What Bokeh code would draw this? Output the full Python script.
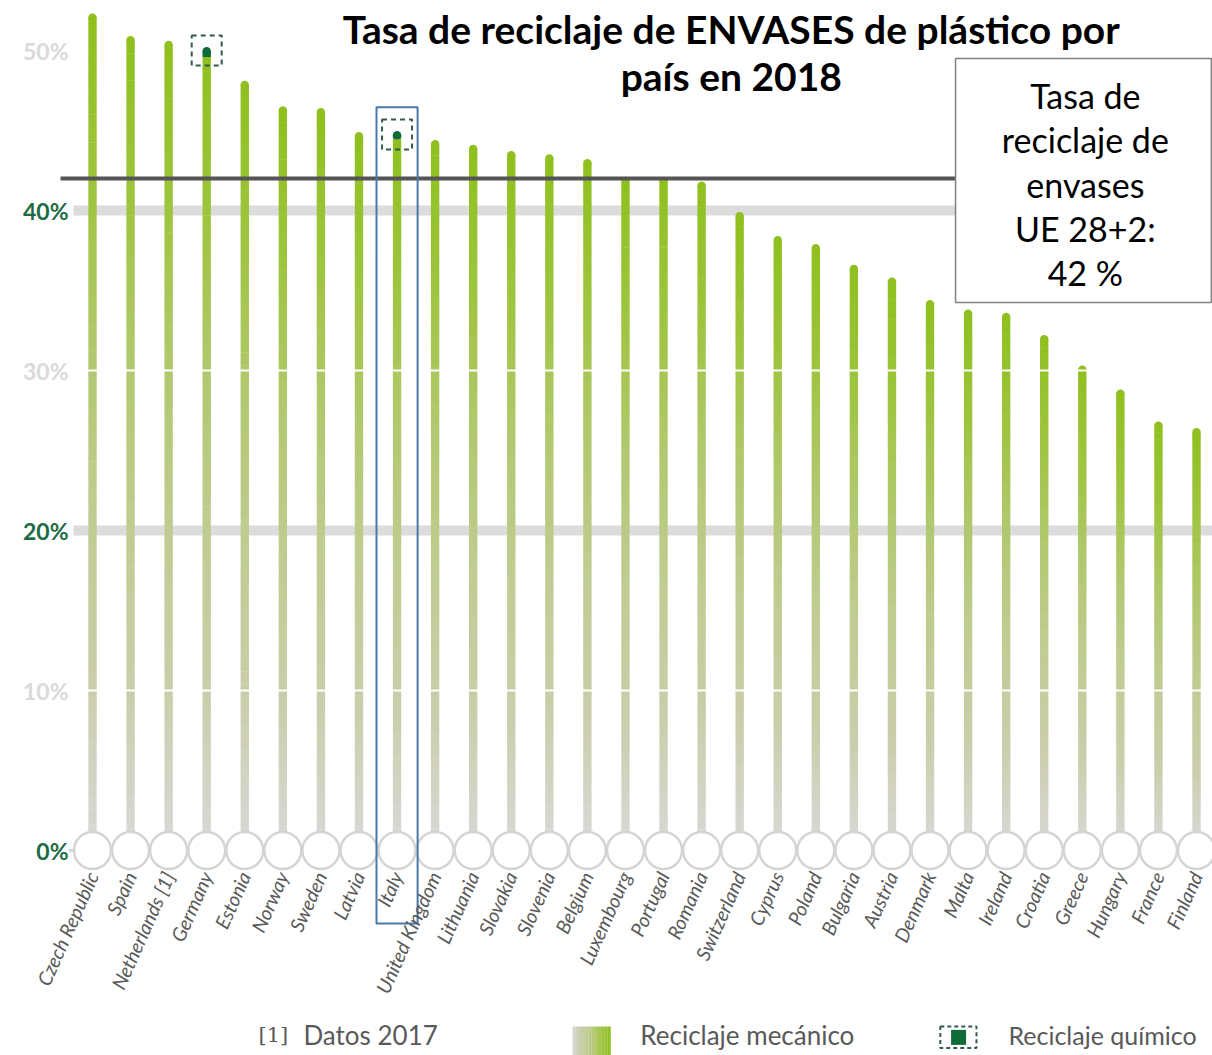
from bokeh.plotting import figure
from bokeh.models import Range1d, ColumnDataSource
from bokeh.core.properties import value
from bokeh.embed import file_html
from bokeh.resources import INLINE

# ---------------- data ----------------
countries = ["Czech Republic", "Spain", "Netherlands [1]", "Germany", "Estonia", "Norway",
             "Sweden", "Latvia", "Italy", "United Kingdom", "Lithuania", "Slovakia",
             "Slovenia", "Belgium", "Luxembourg", "Portugal", "Romania", "Switzerland",
             "Cyprus", "Poland", "Bulgaria", "Austria", "Denmark", "Malta", "Ireland",
             "Croatia", "Greece", "Hungary", "France", "Finland"]
mechanical = [52.3, 50.9, 50.6, 49.6, 48.1, 46.5, 46.4, 44.9, 44.5, 44.4, 44.1, 43.7,
              43.5, 43.2, 42.1, 42.1, 41.8, 39.9, 38.4, 37.9, 36.6, 35.8, 34.4, 33.8,
              33.6, 32.2, 30.3, 28.8, 26.8, 26.4]
chemical = [0, 0, 0, 0.6, 0, 0, 0, 0, 0.45, 0, 0, 0, 0, 0, 0, 0, 0, 0, 0, 0, 0, 0, 0, 0,
            0, 0, 0, 0, 0, 0]
eu_average = 42
y_ticks = [0, 10, 20, 30, 40, 50]
y_tick_labels = ["0%", "10%", "20%", "30%", "40%", "50%"]
highlight = "Italy"
title_lines = ["Tasa de reciclaje de ENVASES de plástico por", "país en 2018"]
box_lines = ["Tasa de", "reciclaje de", "envases", "UE 28+2:", "42 %"]

# ---------------- styling ----------------
FONT = "Lato"
GREEN_DARK = "#1d6b45"
CHEM = "#0f6b38"
LABEL_GREY = "#595959"
stops_t = [0.0, 0.2, 0.4, 0.6, 0.8, 1.0]
stops_c = [(217, 217, 217), (202, 205, 170), (192, 204, 146), (177, 200, 110),
           (158, 196, 62), (143, 192, 31)]


def grad(t):
    t = max(0.0, min(1.0, t))
    for k in range(len(stops_t) - 1):
        if t <= stops_t[k + 1]:
            f = (t - stops_t[k]) / (stops_t[k + 1] - stops_t[k])
            c = [round(a + (b - a) * f) for a, b in zip(stops_c[k], stops_c[k + 1])]
            return "#%02x%02x%02x" % tuple(c)
    return "#%02x%02x%02x" % stops_c[-1]


W, H = 1212, 1055
p = figure(width=W, height=H, output_backend="svg", toolbar_location=None,
           x_axis_location=None, y_axis_location=None, min_border=0,
           x_range=Range1d(-2.4166, 29.42), y_range=Range1d(-12.8125, 53.125),
           outline_line_color=None, background_fill_color="white")
p.grid.visible = False

n = len(countries)
idx = list(range(n))
x_left, x_right = -0.84, 29.6

# grey bands at 20 / 40 and baseline
for yv in (20, 40):
    p.segment(x0=[-0.5], y0=[yv], x1=[x_right], y1=[yv], line_color="#dcdcdc", line_width=10)
p.segment(x0=[-0.62], y0=[0], x1=[x_right], y1=[0], line_color="#d6d6d6", line_width=3)

# gradient bars
K = 60
bx, bb, bt, bc = [], [], [], []
cap_x, cap_y, cap_c = [], [], []
r = 0.25  # half bar width in y units (4px)
for i, v in enumerate(mechanical):
    top = v - r if chemical[i] == 0 else v
    for k in range(K):
        y0 = top * k / K
        y1 = top * (k + 1) / K + 0.03
        bx.append(i); bb.append(y0); bt.append(min(y1, top)); bc.append(grad((k + 0.5) / K))
    if chemical[i] == 0:
        cap_x.append(i); cap_y.append(top); cap_c.append(grad(1.0))
src = ColumnDataSource(dict(x=bx, bottom=bb, top=bt, color=bc))
p.vbar(x="x", bottom="bottom", top="top", width=0.22, fill_color="color", line_color=None, source=src)
p.scatter(x=cap_x, y=cap_y, size=8.4, fill_color=cap_c, line_color=None)

# chemical recycling tips
chem_x = [i for i in idx if chemical[i] > 0]
chem_b = [mechanical[i] for i in chem_x]
chem_t = [mechanical[i] + chemical[i] - r for i in chem_x]
p.vbar(x=chem_x, bottom=chem_b, top=chem_t, width=0.22, fill_color=CHEM, line_color=None)
p.scatter(x=chem_x, y=chem_t, size=8.4, fill_color=CHEM, line_color=None)
p.scatter(x=chem_x, y=[mechanical[i] + chemical[i] - 0.2 for i in chem_x], marker="square",
          size=30, fill_alpha=0, line_color="#2f5a4c", line_width=2, line_dash="5 4")

# white separators at 10 / 30
for yv in (10, 30):
    p.segment(x0=[-0.5], y0=[yv], x1=[x_right], y1=[yv], line_color="white", line_width=2)

# zero circles
p.scatter(x=idx, y=[0] * n, size=37, fill_color="white", line_color="#d4d4d4", line_width=2.5)

# EU average line
p.segment(x0=[x_left], y0=[eu_average], x1=[x_right], y1=[eu_average], line_color="#555555", line_width=4)

# highlight box around Italy
hi = countries.index(highlight)
p.quad(left=[hi - 0.54], right=[hi + 0.54], top=[mechanical[hi] + chemical[hi] + 1.5], bottom=[-4.56],
       fill_alpha=0, line_color="#4a78ad", line_width=2)

# y tick labels
tick_colors = ["#d9d9d9" if t % 20 else GREEN_DARK for t in y_ticks]
p.text(x=[-0.63] * len(y_ticks), y=y_ticks, text=y_tick_labels, text_align="right",
       text_baseline="middle", text_font=value(FONT), text_font_style="bold",
       text_font_size="23px", text_color=tick_colors)

# country labels
p.text(x=idx, y=[-1.4] * n, text=countries, angle=1.15, text_align="right",
       text_baseline="middle", text_font=value(FONT), text_font_style="italic",
       text_font_size="19.5px", text_color=LABEL_GREY)

# title
p.text(x=[16.78, 16.78], y=[51.35, 48.4], text=title_lines, text_align="center",
       text_baseline="middle", text_font=value(FONT), text_font_style="bold",
       text_font_size="39px", text_color="black")

# info box
p.quad(left=[22.67], right=[29.39], top=[49.5], bottom=[34.25], fill_color="white",
       line_color="#808080", line_width=1.5)
p.text(x=[26.08] * len(box_lines), y=[47.19 - 2.77 * k for k in range(len(box_lines))],
       text=box_lines, text_align="center", text_baseline="middle", text_font=value(FONT),
       text_font_size="34px", text_color="black")

# footer / legend
fy = -11.55
p.text(x=[4.36], y=[fy], text=["[1]"], text_baseline="middle", text_font=value("DejaVu Serif"),
       text_font_size="21px", text_color=LABEL_GREY)
p.text(x=[5.54], y=[fy], text=["Datos 2017"], text_baseline="middle", text_font=value(FONT),
       text_font_size="26px", text_color=LABEL_GREY)
G = 12
sw_l, sw_r = 12.61, 13.61
p.quad(left=[sw_l + (sw_r - sw_l) * g / G for g in range(G)],
       right=[sw_l + (sw_r - sw_l) * (g + 1.05) / G for g in range(G)],
       top=[-11.0] * G, bottom=[-12.9] * G,
       fill_color=[grad((g + 0.5) / G) for g in range(G)], line_color=None)
p.text(x=[14.39], y=[fy], text=["Reciclaje mecánico"], text_baseline="middle", text_font=value(FONT),
       text_font_size="26px", text_color=LABEL_GREY)
p.quad(left=[22.27], right=[23.22], top=[-11.0], bottom=[-12.35], fill_alpha=0,
       line_color="#2f5a4c", line_width=2, line_dash="4 3")
p.scatter(x=[22.75], y=[-11.68], marker="square", size=15, fill_color=CHEM, line_color=None)
p.text(x=[24.06], y=[fy], text=["Reciclaje químico"], text_baseline="middle", text_font=value(FONT),
       text_font_size="25px", text_color=LABEL_GREY)

open("out.html", "w").write(file_html(p, INLINE))
